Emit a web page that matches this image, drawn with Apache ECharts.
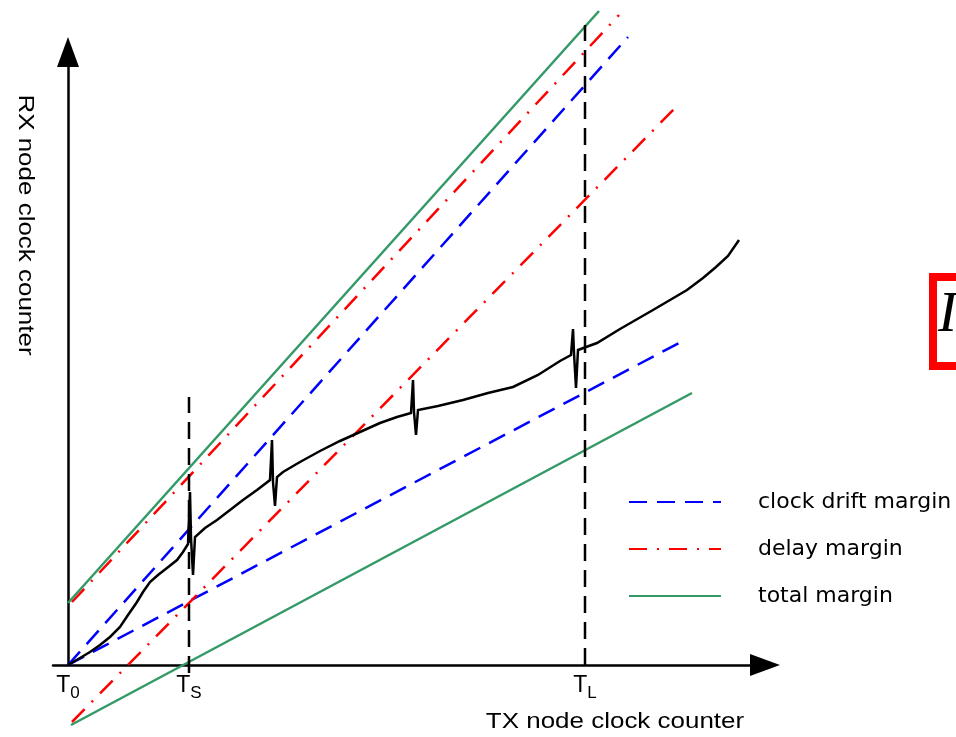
<!DOCTYPE html>
<html><head><meta charset="utf-8">
<script src="https://cdn.jsdelivr.net/npm/echarts@6/dist/echarts.min.js"></script>
<style>html,body{margin:0;padding:0;background:#fff}#c{width:956px;height:737px}</style>
</head><body><div id="c"></div>
<script>
// Tick labels on the TX axis (positions in counter units)
const tickValues = [0, 121, 517];
const tickMain = ['T', 'T', 'T'];
const tickSub = ['0', 'S', 'L'];
const legendNames = ['clock drift margin', 'delay margin', 'total margin'];
const xTitle = 'TX node clock counter';
const yTitle = 'RX node clock counter';

// Margin lines [TX, RX]
const driftUpper = [[0, 0], [560, 628]];
const driftLower = [[0, 0], [611, 322]];
const delayUpper = [[4, 63], [551, 650]];
const delayLower = [[4, -57], [611, 561]];
const totalUpper = [[0, 62], [531, 654]];
const totalLower = [[3, -60], [624, 272]];
// Vertical markers at T_S and T_L
const markerTS = [[121, -8], [121, 268]];
const markerTL = [[517, 0], [517, 640]];
// RX clock counter curve with sync spikes
const rxCurve = [
  [0, 0], [12, 7], [22, 13], [32, 20], [42, 28], [52, 38], [60, 50], [69, 63], [75, 73],
  [82, 83], [90, 90], [99, 97], [109, 105], [115, 113],
  [120, 121], [122, 173], [123, 127], [125, 90], [127, 128],
  [137, 137], [149, 145], [162, 155], [175, 165], [189, 175], [202, 185],
  [204, 225], [205, 183], [207, 159], [209, 188],
  [215, 193], [232, 203], [252, 214], [272, 224], [292, 233], [312, 242], [329, 248], [343, 252],
  [345, 285], [346, 253], [348, 230], [350, 255],
  [370, 259], [395, 265], [420, 272], [445, 278], [470, 290], [492, 304], [503, 310],
  [505, 336], [506, 312], [508, 277], [510, 315],
  [529, 322], [552, 336], [585, 355], [619, 375], [635, 387], [648, 398], [660, 409], [671, 425]
];

const BLUE = '#0000ff', RED = '#ff0000', GREEN = '#339966';
const FONT = 'DejaVu Sans';
const SANS = 'Liberation Sans';

function lineSeries(name, data, color, type, width, z) {
  return {
    type: 'line', name: name, data: data, clip: false, symbol: 'none', z: z || 2,
    silent: true, animation: false,
    lineStyle: { color: color, width: width, type: type, cap: 'butt', join: 'miter' },
    itemStyle: { color: color }
  };
}

const chart = echarts.init(document.getElementById('c'), null, { renderer: 'canvas' });
chart.setOption({
  backgroundColor: '#fff',
  animation: false,
  grid: { left: 53, right: 191, top: 52, bottom: 72 },
  xAxis: {
    type: 'value', min: -15, max: 697,
    splitLine: { show: false },
    axisTick: { show: false },
    axisLine: { show: true, onZero: true, symbol: ['none', 'triangle'], symbolSize: [22, 30],
      lineStyle: { color: '#000', width: 2.5 } },
    axisLabel: {
      show: true, customValues: tickValues, margin: 9, color: '#000', fontSize: 23, fontFamily: SANS,
      formatter: function (v) {
        const i = tickValues.indexOf(v);
        return i < 0 ? '' : '{m|' + tickMain[i] + '}{s|' + tickSub[i] + '}';
      },
      rich: {
        m: { fontSize: 23, fontFamily: SANS, lineHeight: 24, verticalAlign: 'top', color: '#000' },
        s: { fontSize: 17, fontFamily: SANS, lineHeight: 17, padding: [11, 0, 0, 0], verticalAlign: 'top', color: '#000' }
      }
    }
  },
  yAxis: {
    type: 'value', min: 0, max: 613,
    splitLine: { show: false },
    axisTick: { show: false },
    axisLabel: { show: false },
    axisLine: { show: true, onZero: true, symbol: ['none', 'triangle'], symbolSize: [22, 30],
      lineStyle: { color: '#000', width: 2.5 } }
  },
  legend: {
    data: legendNames, orient: 'vertical', left: 628, top: 491, padding: 0,
    itemWidth: 92, itemHeight: 20, itemGap: 25,
    itemStyle: { opacity: 0 },
    textStyle: { fontFamily: FONT, fontSize: 22, lineHeight: 18, color: '#000', padding: [0, 0, 0, 32] },
    selectedMode: false
  },
  series: [
    lineSeries(legendNames[0], driftUpper, BLUE, [18, 10], 2.5),
    lineSeries(legendNames[0], driftLower, BLUE, [18, 10], 2.5),
    lineSeries(legendNames[1], delayUpper, RED, [18, 10, 2, 10], 2.5),
    lineSeries(legendNames[1], delayLower, RED, [18, 10, 2, 10], 2.5),
    lineSeries(legendNames[2], totalUpper, GREEN, 'solid', 2.5),
    lineSeries(legendNames[2], totalLower, GREEN, 'solid', 2.5),
    lineSeries('T_S', markerTS, '#000', [17, 9], 2.5),
    lineSeries('T_L', markerTL, '#000', [17, 9], 2.5),
    lineSeries('RX counter', rxCurve, '#000', 'solid', 2.5, 5)
  ],
  graphic: [
    { type: 'text', x: 615, y: 722, scaleX: 1.18, silent: true,
      style: { text: xTitle, font: '22px "' + SANS + '"', fill: '#000', align: 'center', verticalAlign: 'middle' } },
    { type: 'text', x: 25, y: 225, rotation: -Math.PI / 2, scaleX: 1.18, silent: true,
      style: { text: yTitle, font: '22px "' + SANS + '"', fill: '#000', align: 'center', verticalAlign: 'middle' } },
    { type: 'rect', silent: true, shape: { x: 933, y: 277, width: 60, height: 89 },
      style: { fill: '#fff', stroke: '#ff0000', lineWidth: 8 } },
    { type: 'text', x: 938, y: 316, silent: true,
      style: { text: 'I', font: 'italic 57px "Liberation Serif"', fill: '#000', align: 'left', verticalAlign: 'middle' } }
  ]
});
</script>
</body></html>
